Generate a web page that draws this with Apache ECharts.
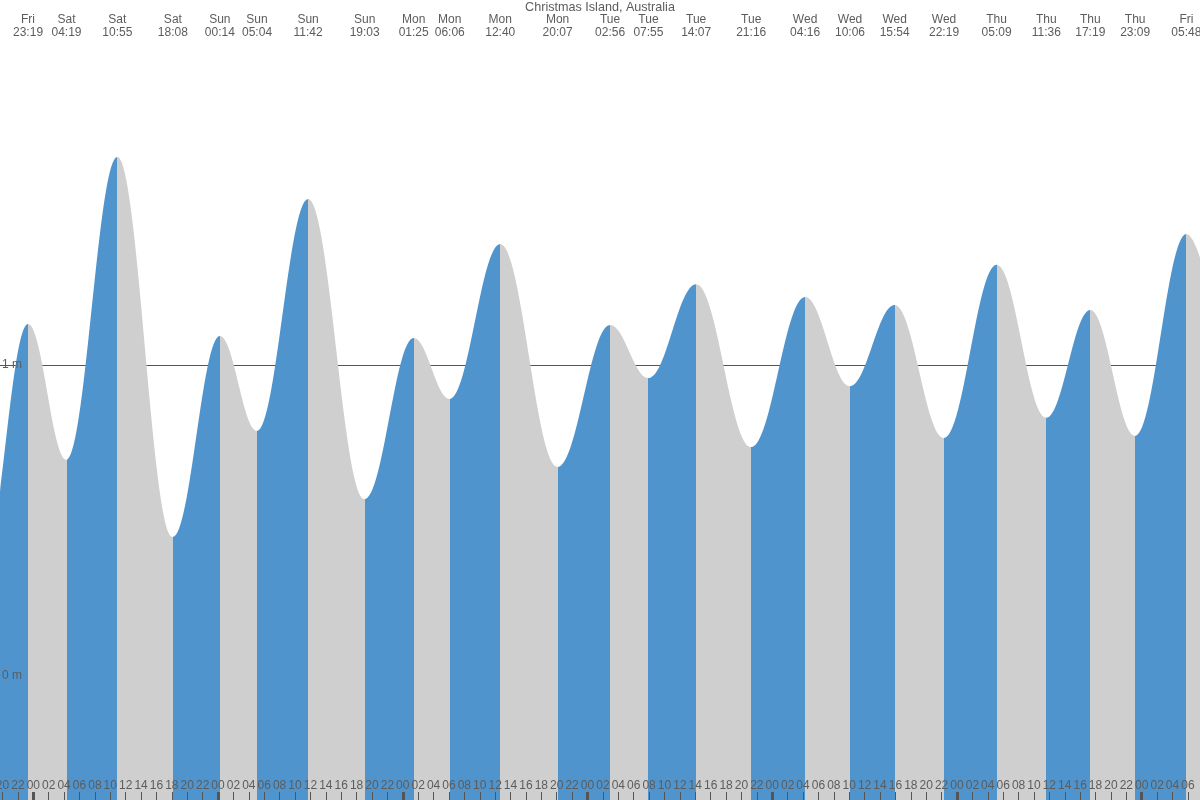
<!DOCTYPE html>
<html><head><meta charset="utf-8">
<script src="https://cdn.jsdelivr.net/npm/echarts@6/dist/echarts.min.js"></script>
<style>html,body{margin:0;padding:0;background:#fff}#c{width:1200px;height:800px}</style>
</head><body><div id="c"></div>
<script>
const chartTitle = 'Christmas Island, Australia';
// day names by offset from Saturday 00:00 (offset -1 = previous Friday)
const dayNames = ['Fri', 'Sat', 'Sun', 'Mon', 'Tue', 'Wed', 'Thu', 'Fri'];
// tide extremes (first two and last lie just outside the visible window)
const extremeDayOffsets = [-1, -1, -1, 0, 0, 0, 1, 1, 1, 1, 2, 2, 2, 2, 3, 3, 3, 3, 4, 4, 4, 4, 5, 5, 5, 5, 6, 6];
const extremeTimes = ['11:20', '17:30', '23:19', '04:19', '10:55', '18:08', '00:14', '05:04', '11:42', '19:03', '01:25', '06:06', '12:40', '20:07',
  '02:56', '07:55', '14:07', '21:16', '04:16', '10:06', '15:54', '22:19', '05:09', '11:36', '17:19', '23:09', '05:48', '12:10'];
const extremeHeights = [1.45, 0.36, 1.132, 0.695, 1.669, 0.447, 1.093, 0.788, 1.534, 0.569, 1.087, 0.891, 1.389, 0.672,
  1.129, 0.958, 1.260, 0.736, 1.219, 0.932, 1.193, 0.765, 1.322, 0.830, 1.177, 0.772, 1.421, 0.82];
const yTickValues = [0, 1];

const risingColor = '#4F94CD';
const fallingColor = '#CFCFCF';
const xMin = -4.326, xMax = 151.57;   // hours from Saturday 00:00
const yMin = -0.3987, yMax = 2.1736;  // metres

function toHours(off, t) {
  const p = t.split(':');
  return off * 24 + parseInt(p[0], 10) + parseInt(p[1], 10) / 60;
}
const extremeHours = extremeTimes.map((t, i) => toHours(extremeDayOffsets[i], t));
const seriesData = extremeHours.map((h, i) => [h, extremeHeights[i]]);

const topLabelMap = {};
const topLabelValues = [];
extremeHours.forEach((h, i) => {
  if (h >= xMin && h <= xMax) {
    topLabelValues.push(h);
    topLabelMap[h.toFixed(4)] = dayNames[extremeDayOffsets[i] + 1] + '\n' + extremeTimes[i];
  }
});

const twoHourTicks = [];
for (let h = -4; h <= 152; h += 2) twoHourTicks.push(h);
const midnightTicks = [];
for (let h = 0; h <= 144; h += 24) midnightTicks.push(h);

const pieces = [];
for (let i = 0; i < extremeHours.length - 1; i++) {
  pieces.push({
    gte: extremeHours[i], lt: extremeHours[i + 1],
    color: extremeHeights[i + 1] > extremeHeights[i] ? risingColor : fallingColor
  });
}

const font = 'Liberation Sans, Arial, sans-serif';
const fs = 12;
const textColor = '#5c5c5c';
const chart = echarts.init(document.getElementById('c'));
chart.setOption({
  animation: false,
  backgroundColor: '#fff',
  title: {
    text: chartTitle, left: 'center', top: 0, padding: [1, 0, 0, 0],
    textStyle: { fontSize: 12.6, fontWeight: 'normal', color: textColor, fontFamily: font }
  },
  grid: { left: 0, right: 0, top: 0, bottom: 0, containLabel: false, outerBoundsMode: 'none' },
  visualMap: {
    show: false, type: 'piecewise', dimension: 0, seriesIndex: 0,
    pieces: pieces, outOfRange: { color: fallingColor }
  },
  xAxis: [
    {
      type: 'value', position: 'bottom', min: xMin, max: xMax, z: 5,
      axisLine: { show: false, onZero: false }, splitLine: { show: false },
      axisTick: { show: true, inside: true, length: 8, customValues: twoHourTicks, lineStyle: { color: '#555', width: 1 } },
      axisLabel: {
        show: true, inside: true, margin: 8, customValues: twoHourTicks,
        color: textColor, fontSize: fs, fontFamily: font,
        formatter: v => { const h = ((Math.round(v) % 24) + 24) % 24; return (h < 10 ? '0' : '') + h; }
      }
    },
    {
      type: 'value', position: 'bottom', min: xMin, max: xMax, z: 5,
      axisLine: { show: false, onZero: false }, splitLine: { show: false },
      axisTick: { show: true, inside: true, length: 8, customValues: midnightTicks, lineStyle: { color: '#555', width: 3 } },
      axisLabel: { show: false }
    },
    {
      type: 'value', position: 'top', min: xMin, max: xMax, z: 5,
      axisLine: { show: false, onZero: false }, splitLine: { show: false },
      axisTick: { show: false, customValues: topLabelValues },
      axisLabel: {
        show: true, inside: true, margin: 12.8, customValues: topLabelValues,
        color: textColor, fontSize: fs, lineHeight: 13.2, fontFamily: font, align: 'center',
        formatter: v => topLabelMap[v.toFixed(4)] || ''
      }
    }
  ],
  yAxis: [
    {
      type: 'value', min: yMin, max: yMax, z: 0,
      axisLine: { show: false, onZero: false },
      axisTick: { show: false, customValues: yTickValues },
      axisLabel: { show: false, customValues: yTickValues },
      splitLine: { show: true, lineStyle: { color: '#555', width: 1 } }
    },
    {
      type: 'value', position: 'left', min: yMin, max: yMax, z: 5,
      axisLine: { show: false, onZero: false },
      axisTick: { show: false, customValues: yTickValues },
      axisLabel: {
        show: true, inside: true, margin: 2, customValues: yTickValues,
        color: textColor, fontSize: fs, fontFamily: font,
        formatter: v => v + ' m'
      },
      splitLine: { show: false }
    }
  ],
  series: [{
    type: 'line', xAxisIndex: 0, yAxisIndex: 0,
    data: seriesData, smooth: 0.38, smoothMonotone: 'x',
    symbol: 'none', lineStyle: { width: 0 },
    areaStyle: { opacity: 1, origin: 'start' },
    clip: true, z: 2
  }]
});
</script>
</body></html>
